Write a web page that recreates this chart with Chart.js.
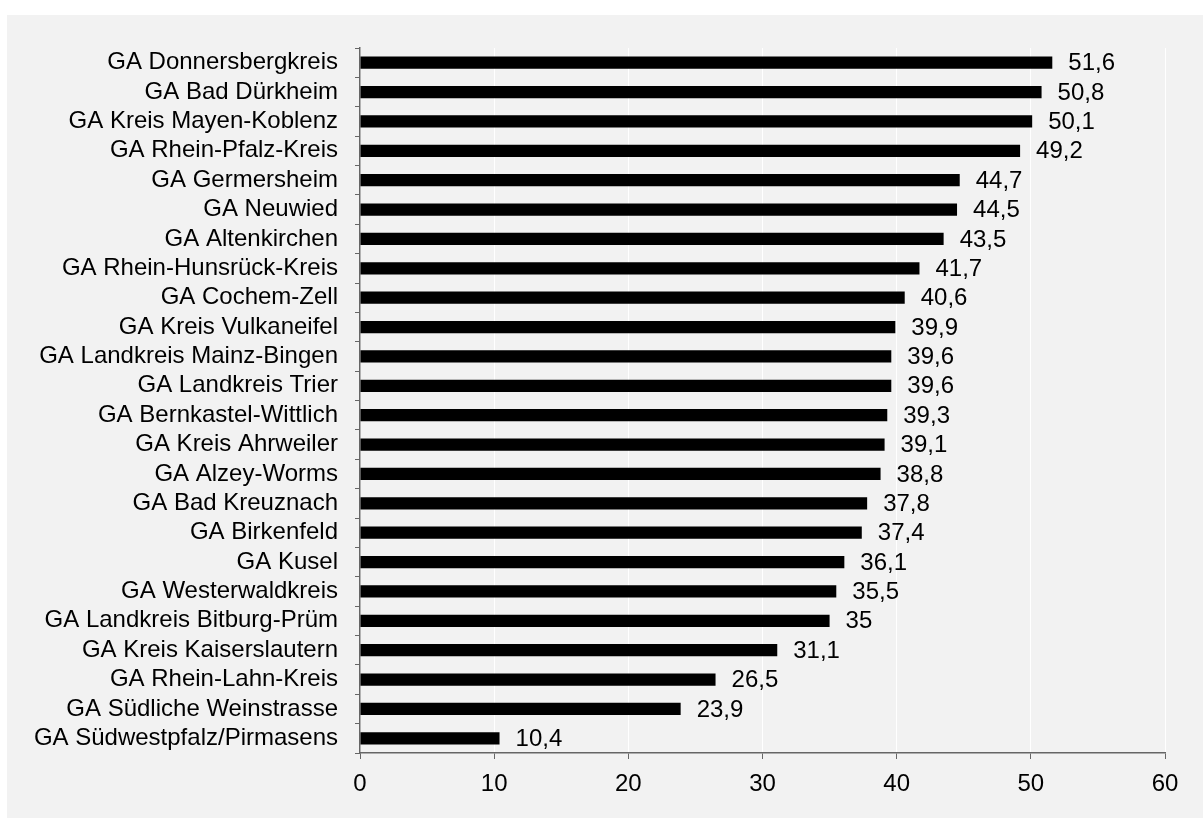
<!DOCTYPE html>
<html>
<head>
<meta charset="utf-8">
<script src="https://cdn.jsdelivr.net/npm/chart.js@4/dist/chart.umd.min.js"></script>
<style>
  html, body { margin: 0; padding: 0; background: #ffffff; }
  #wrap { width: 1203px; height: 818px; position: relative; }
</style>
</head>
<body>
<div id="wrap"><canvas id="myChart" width="1203" height="818"></canvas></div>
<script>
var chart_bar;

// Gesundheitsämter, von oben nach unten
var aemter = [
  'GA Donnersbergkreis', 'GA Bad Dürkheim', 'GA Kreis Mayen-Koblenz', 'GA Rhein-Pfalz-Kreis',
  'GA Germersheim', 'GA Neuwied', 'GA Altenkirchen', 'GA Rhein-Hunsrück-Kreis',
  'GA Cochem-Zell', 'GA Kreis Vulkaneifel', 'GA Landkreis Mainz-Bingen', 'GA Landkreis Trier',
  'GA Bernkastel-Wittlich', 'GA Kreis Ahrweiler', 'GA Alzey-Worms', 'GA Bad Kreuznach',
  'GA Birkenfeld', 'GA Kusel', 'GA Westerwaldkreis', 'GA Landkreis Bitburg-Prüm',
  'GA Kreis Kaiserslautern', 'GA Rhein-Lahn-Kreis', 'GA Südliche Weinstrasse', 'GA Südwestpfalz/Pirmasens'
];

var werte = [
  51.6, 50.8, 50.1, 49.2,
  44.7, 44.5, 43.5, 41.7,
  40.6, 39.9, 39.6, 39.6,
  39.3, 39.1, 38.8, 37.8,
  37.4, 36.1, 35.5, 35,
  31.1, 26.5, 23.9, 10.4
];

var x_ticks = [0, 10, 20, 30, 40, 50, 60];

var schrift = 'Arial, "Liberation Sans", sans-serif';
var groesse = 24;

// grauer Hintergrund hinter dem Diagramm
var fondo = {
  id: 'fondo',
  beforeDraw: function (chart) {
    var ctx = chart.ctx;
    ctx.save();
    ctx.fillStyle = '#f2f2f2';
    ctx.fillRect(7, 15, chart.width - 7, chart.height - 15);
    ctx.restore();
  }
};

// Werte rechts neben den Balken (mit Komma)
var etiquetas = {
  id: 'etiquetas',
  afterDatasetsDraw: function (chart) {
    var ctx = chart.ctx;
    var meta = chart.getDatasetMeta(0);
    ctx.save();
    ctx.fillStyle = '#000000';
    ctx.font = groesse + 'px ' + schrift;
    ctx.textAlign = 'left';
    ctx.textBaseline = 'middle';
    meta.data.forEach(function (bar, i) {
      var txt = String(werte[i]).replace('.', ',');
      ctx.fillText(txt, bar.x + 16, bar.y + 1);
    });
    ctx.restore();
  }
};

function init() {
  var chart_bar_div = document.getElementById('myChart');

  chart_bar = new Chart(chart_bar_div, {
    type: 'bar',
    data: {
      labels: aemter,
      datasets: [{
        data: werte,
        backgroundColor: '#000000',
        borderWidth: 0,
        categoryPercentage: 1,
        barPercentage: 0.42
      }]
    },
    options: {
      indexAxis: 'y',
      responsive: false,
      animation: false,
      layout: { padding: { left: 0, right: 38, top: 48, bottom: 22 } },
      plugins: {
        legend: { display: false },
        tooltip: { enabled: false }
      },
      scales: {
        x: {
          min: 0,
          max: 60,
          afterBuildTicks: function (scale) {
            scale.ticks = x_ticks.map(function (v) { return { value: v }; });
          },
          afterFit: function (scale) { scale.height = 43; },
          grid: { color: '#ffffff', lineWidth: 1, tickColor: '#666666', tickLength: 6 },
          border: { color: '#666666', width: 1.5 },
          ticks: { color: '#000000', font: { size: groesse, family: schrift }, padding: 11, maxRotation: 0 }
        },
        y: {
          afterFit: function (scale) { scale.width = 360; },
          grid: { drawOnChartArea: false, tickColor: '#666666', tickLength: 5, offset: true },
          border: { color: '#666666', width: 1.5 },
          ticks: { color: '#000000', font: { size: groesse, family: schrift }, padding: 17, autoSkip: false }
        }
      }
    },
    plugins: [fondo, etiquetas]
  });
}

init();
</script>
</body>
</html>
